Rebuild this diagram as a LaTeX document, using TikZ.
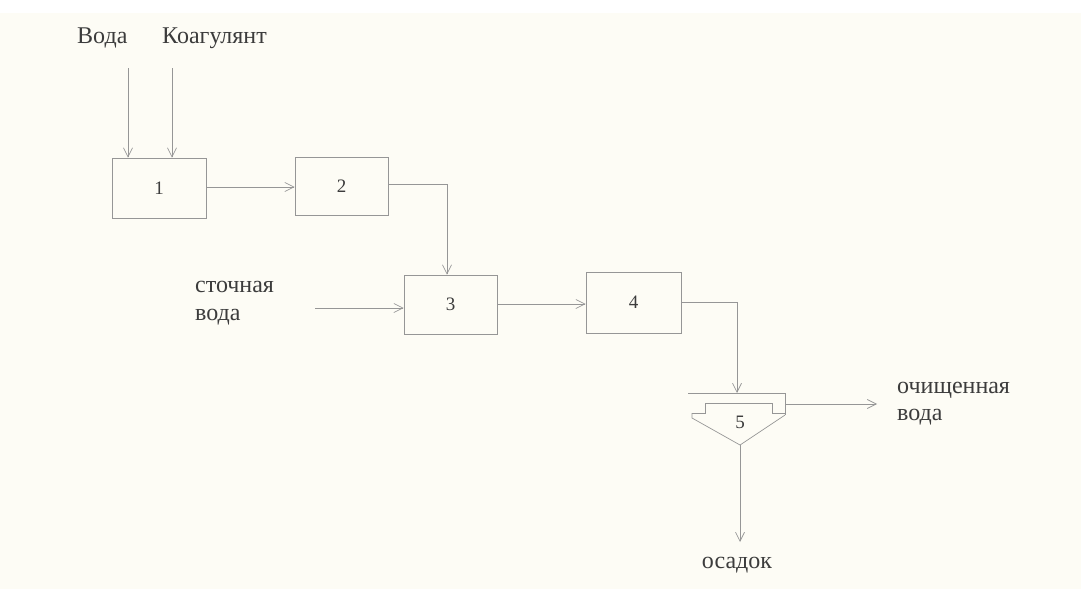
\documentclass[tikz,border=0pt]{standalone}
\usepackage{fontspec}
\setmainfont{Liberation Serif}
\usetikzlibrary{arrows.meta}
\definecolor{bg}{RGB}{253,252,245}
\definecolor{ln}{RGB}{150,150,150}
\definecolor{tx}{RGB}{60,60,60}
\begin{document}
\begin{tikzpicture}[x=1pt,y=-1pt,
  flow/.style={draw=ln,line width=0.7pt,-{Straight Barb[length=9pt,width=9pt]}},
  plain/.style={draw=ln,line width=0.7pt},
  unit/.style={draw=ln,line width=0.7pt,minimum width=94pt,minimum height=60pt,inner sep=0pt,text=tx,font=\fontsize{19}{19}\selectfont},
  lbl/.style={text=tx,font=\fontsize{24}{24}\selectfont,inner sep=0pt,anchor=base west}]
\fill[white] (0,0) rectangle (1081,589);
\fill[bg] (0,13) rectangle (1081,589);
\useasboundingbox (0,0) rectangle (1081,589);
% labels
\node[lbl] (voda) at (77,43) {Вода};
\node[lbl] (koag) at (162,43) {Коагулянт};
\node[lbl] (stochA) at (195,292) {сточная};
\node[lbl] (stochB) at (195,320) {вода};
\node[lbl] (cleanA) at (897,393) {очищенная};
\node[lbl] (cleanB) at (897,420) {вода};
\node[lbl,anchor=base] (osad) at (737,568) {осадок};
% units
\node[unit] (u1) at (159,188) {1};
\node[unit,minimum width=93pt,minimum height=58pt] (u2) at (341.5,186) {2};
\node[unit,minimum width=93pt,minimum height=59pt] (u3) at (450.5,304.5) {3};
\node[unit,minimum width=95pt,minimum height=61pt] (u4) at (633.5,302.5) {4};
% settler
\coordinate (s5) at (740,393);
\draw[plain] (688,393) -- (785,393) -- (785,415);
\draw[plain] (692,413) -- (705,413) -- (705,403) -- (772,403) -- (772,413) -- (785,413);
\draw[plain] (692,413) -- (692,418) -- (740,445) -- (785,415);
\node[text=tx,font=\fontsize{19}{19}\selectfont] (n5) at (740,422) {5};
\coordinate (s5out) at (785,404);
\coordinate (s5bot) at (740,445);
% free ends
\coordinate (vin) at (128,68);
\coordinate (kin) at (172,68);
\coordinate (win) at (315,308);
\coordinate (cout) at (877,404);
\coordinate (oout) at (740,542);
% connectors
\draw[flow] (vin) -- (vin |- u1.north);
\draw[flow] (kin) -- (kin |- u1.north);
\draw[flow] (u1.east |- 0,187) -- (u2.west |- 0,187);
\draw[flow] (u2.east |- 0,184) -| (447,0 |- u3.north);
\draw[flow] (win) -- (u3.west |- win);
\draw[flow] (u3.east |- 0,304) -- (u4.west |- 0,304);
\draw[flow] (u4.east |- 0,302) -| (737,0 |- s5);
\draw[flow] (s5out) -- (cout);
\draw[flow] (s5bot) -- (oout);
\end{tikzpicture}
\end{document}
